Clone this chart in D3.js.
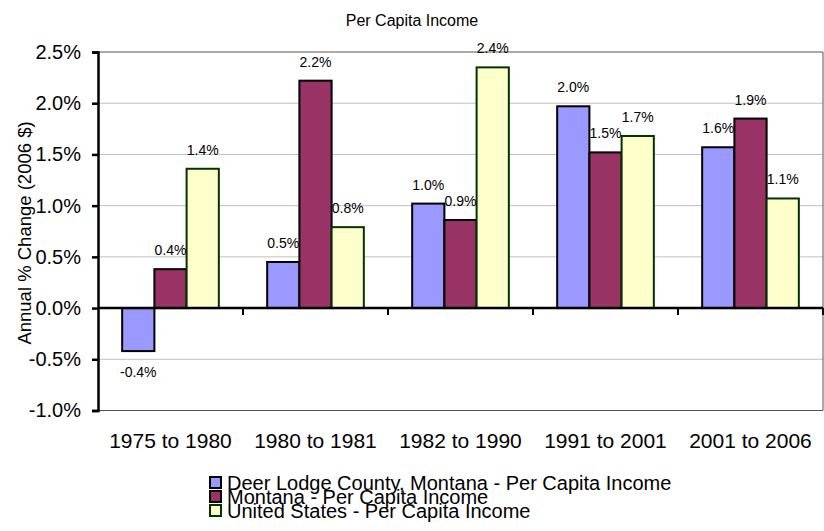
<!DOCTYPE html>
<html lang="en">
<head>
<meta charset="UTF-8">
<title>Per Capita Income</title>
<script src="https://d3js.org/d3.v7.min.js"></script>
<style>
    body { margin: 0; background: #fff; }
    svg { display: block; font-family: "Liberation Sans", Arial, sans-serif; }
</style>
</head>
<body>
<svg width="824" height="531"></svg>
<script>
    // data
    const periods = ["1975 to 1980", "1980 to 1981", "1982 to 1990", "1991 to 2001", "2001 to 2006"];
    const seriesNames = [
        "Deer Lodge County, Montana - Per Capita Income",
        "Montana - Per Capita Income",
        "United States - Per Capita Income"
    ];
    const deerLodge = [-0.42, 0.45, 1.02, 1.97, 1.57];
    const montana   = [0.38, 2.22, 0.86, 1.52, 1.85];
    const usa       = [1.36, 0.79, 2.35, 1.68, 1.07];
    const yTicks = [-1.0, -0.5, 0.0, 0.5, 1.0, 1.5, 2.0, 2.5];

    const fills   = ["#9999ff", "#993366", "#ffffcc"];
    const strokes = ["#000000", "#000000", "#003300"];

    const series = [deerLodge, montana, usa];

    // plain hyphen for negatives, like the original
    const pct = d => d3.format(".1f")(d).replace("\u2212", "-") + "%";

    const svg = d3.select("svg");
    const plotL = 98, plotR = 823, plotT = 52, plotB = 410.5;

    const y = d3.scaleLinear().domain([-1.0, 2.5]).range([plotB, plotT]);
    const x0 = d3.scaleBand().domain(periods).range([plotL, plotR]);
    // Excel gap width 150%: bar = band / 4.5
    const barW = x0.bandwidth() / 4.5;
    const pad = barW * 0.75;

    // title
    svg.append("text")
        .attr("x", 412).attr("y", 26)
        .attr("text-anchor", "middle")
        .attr("font-size", "16px")
        .text("Per Capita Income");

    // gridlines
    svg.append("g").selectAll("line")
        .data(yTicks.filter(t => t !== 0 && t !== -1 && t !== 2.5))
        .enter().append("line")
        .attr("x1", plotL).attr("x2", plotR)
        .attr("y1", d => y(d)).attr("y2", d => y(d))
        .attr("stroke", "#c0c0c0").attr("stroke-width", 1);

    // plot border (top/right/bottom)
    svg.append("path")
        .attr("d", `M${plotL},${y(2.5)}H${plotR}V${y(-1)}H${plotL}`)
        .attr("fill", "none").attr("stroke", "#555").attr("stroke-width", 1);

    // bars
    series.forEach(function (vals, si) {
        svg.append("g").selectAll("rect")
            .data(vals)
            .enter().append("rect")
            .attr("x", (d, i) => x0(periods[i]) + pad + si * barW)
            .attr("width", barW)
            .attr("y", d => y(Math.max(0, d)))
            .attr("height", d => Math.abs(y(d) - y(0)))
            .attr("fill", fills[si])
            .attr("stroke", strokes[si])
            .attr("stroke-width", 2);
    });

    // value labels
    series.forEach(function (vals, si) {
        svg.append("g").selectAll("text")
            .data(vals)
            .enter().append("text")
            .attr("x", (d, i) => x0(periods[i]) + pad + si * barW + barW / 2)
            .attr("y", d => d >= 0 ? y(d) - 14 : y(d) + 26)
            .attr("text-anchor", "middle")
            .attr("font-size", "14px")
            .text(pct);
    });

    // y axis
    const yAxis = svg.append("g")
        .attr("transform", `translate(${plotL},0)`)
        .call(d3.axisLeft(y).tickValues(yTicks).tickSize(6).tickPadding(11)
            .tickFormat(pct));
    yAxis.select(".domain").attr("stroke", "#000").attr("stroke-width", 2.5);
    yAxis.selectAll(".tick line").attr("stroke", "#000").attr("stroke-width", 2.5);
    yAxis.selectAll("text").attr("font-size", "20px").attr("fill", "#000")
        .attr("font-family", "'Liberation Sans', Arial, sans-serif");

    // zero axis with category ticks
    svg.append("line")
        .attr("x1", plotL).attr("x2", plotR)
        .attr("y1", y(0)).attr("y2", y(0))
        .attr("stroke", "#000").attr("stroke-width", 2.5);
    svg.append("g").selectAll("line")
        .data(periods.slice(1).concat(["end"]))
        .enter().append("line")
        .attr("x1", d => d === "end" ? plotR : x0(d))
        .attr("x2", d => d === "end" ? plotR : x0(d))
        .attr("y1", y(0)).attr("y2", y(0) + 7)
        .attr("stroke", "#000").attr("stroke-width", 2);

    // category labels
    svg.append("g").selectAll("text")
        .data(periods)
        .enter().append("text")
        .attr("x", d => x0(d) + x0.bandwidth() / 2)
        .attr("y", 448)
        .attr("text-anchor", "middle")
        .attr("font-size", "21px")
        .text(d => d);

    // y axis title
    svg.append("text")
        .attr("transform", `translate(31,233) rotate(-90)`)
        .attr("text-anchor", "middle")
        .attr("font-size", "18.5px")
        .text("Annual % Change (2006 $)");

    // legend
    const legend = svg.append("g").selectAll("g")
        .data(seriesNames)
        .enter().append("g")
        .attr("transform", (d, i) => `translate(210,${477 + i * 14})`);
    legend.append("rect")
        .attr("width", 11).attr("height", 11)
        .attr("fill", (d, i) => fills[i])
        .attr("stroke", (d, i) => strokes[i])
        .attr("stroke-width", 2);
    legend.append("text")
        .attr("x", 17).attr("y", 12.5)
        .attr("font-size", "20px")
        .text(d => d);
</script>
</body>
</html>
